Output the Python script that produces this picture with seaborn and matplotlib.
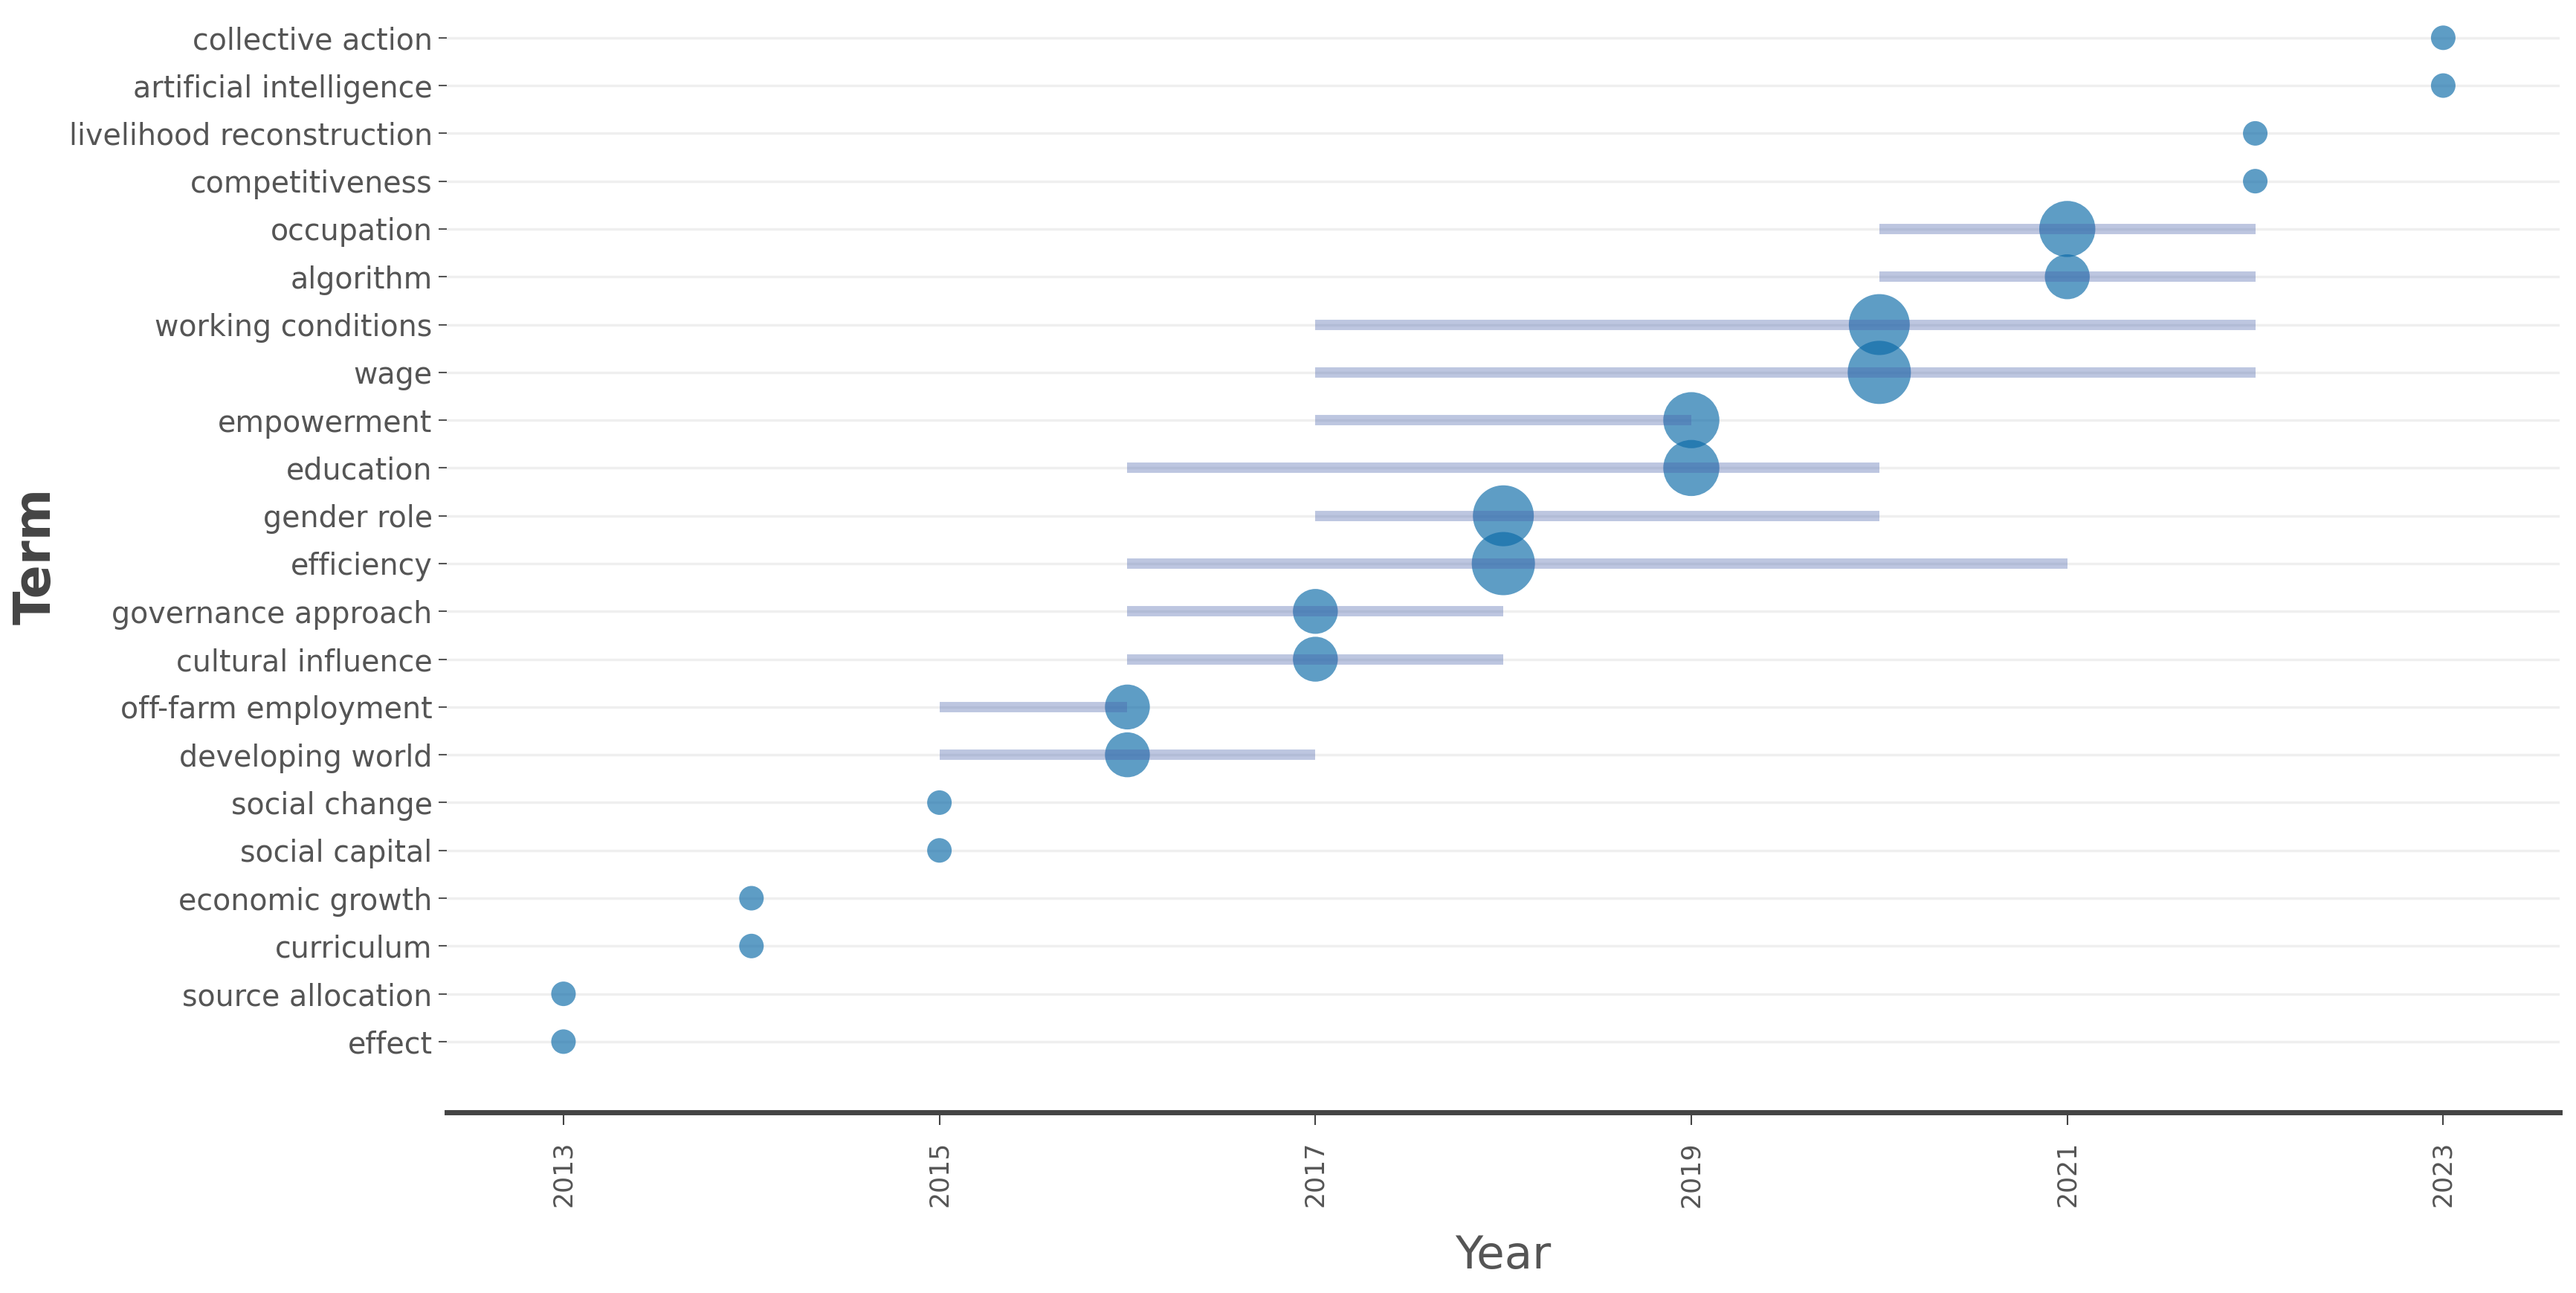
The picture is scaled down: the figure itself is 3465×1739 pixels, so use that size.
import matplotlib
matplotlib.use("Agg")
import matplotlib.pyplot as plt
import seaborn as sns
import pandas as pd

# Trend topics: median year, first/third quartile years, frequency
terms = ["collective action", "artificial intelligence", "livelihood reconstruction",
         "competitiveness", "occupation", "algorithm", "working conditions", "wage",
         "empowerment", "education", "gender role", "efficiency", "governance approach",
         "cultural influence", "off-farm employment", "developing world", "social change",
         "social capital", "economic growth", "curriculum", "source allocation", "effect"]
year_med = [2023, 2023, 2022, 2022, 2021, 2021, 2020, 2020, 2019, 2019, 2018, 2018,
            2017, 2017, 2016, 2016, 2015, 2015, 2014, 2014, 2013, 2013]
year_q1 = [2023, 2023, 2022, 2022, 2020, 2020, 2017, 2017, 2017, 2016, 2017, 2016,
           2016, 2016, 2015, 2015, 2015, 2015, 2014, 2014, 2013, 2013]
year_q3 = [2023, 2023, 2022, 2022, 2022, 2022, 2022, 2022, 2019, 2020, 2020, 2021,
           2018, 2018, 2016, 2017, 2015, 2015, 2014, 2014, 2013, 2013]
freq = [3, 3, 3, 3, 12, 8, 14, 15, 12, 12, 14, 15, 8, 8, 8, 8, 3, 3, 3, 3, 3, 3]
year_ticks = [2013, 2015, 2017, 2019, 2021, 2023]

# bottom-to-top order so matplotlib's categorical axis puts "effect" at the bottom
df = pd.DataFrame({"term": terms, "year": year_med, "q1": year_q1,
                   "q3": year_q3, "freq": freq}).iloc[::-1].reset_index(drop=True)

sns.set_style("white")
plt.rcParams["font.family"] = ["DejaVu Sans"]

fig = plt.figure(figsize=(34.65, 17.39), dpi=100)
ax = fig.add_axes([0.1735, 0.1397, 0.8202, 0.8603])

# light horizontal grid lines for each term
ax.grid(axis="y", color="#efefef", linewidth=2.5)
ax.set_axisbelow(True)

sns.scatterplot(data=df, x="year", y="term", size="freq", sizes=(565, 3745),
                size_norm=(3, 15), color="#0b6aa8", alpha=0.66, linewidth=0,
                legend=False, ax=ax, zorder=3)
ax.hlines(y=df["term"], xmin=df["q1"], xmax=df["q3"], color="#4862ab",
          alpha=0.36, linewidth=10, capstyle="butt", zorder=4)

ax.set_xlim(2012.38, 2023.62)
ax.set_ylim(-1.48, 21.79)
ax.set_xticks(year_ticks)
ax.set_xticklabels([str(y) for y in year_ticks], rotation=90)

for s in ["top", "right", "left"]:
    ax.spines[s].set_visible(False)
ax.spines["bottom"].set_color("#444444")
ax.spines["bottom"].set_linewidth(5)

ax.tick_params(axis="x", direction="out", length=12, width=1.5, color="#444444",
               labelsize=25, labelcolor="#555555", pad=16, bottom=True)
ax.tick_params(axis="y", direction="out", length=8, width=1.5, color="#555555",
               labelsize=28.5, labelcolor="#555555", pad=6, left=True)

ax.set_xlabel("Year", fontsize=44, color="#555555", labelpad=26)
ax.set_ylabel("Term", fontsize=48, color="#444444", fontweight="bold", labelpad=8)

fig.savefig("out.png", dpi=100)
